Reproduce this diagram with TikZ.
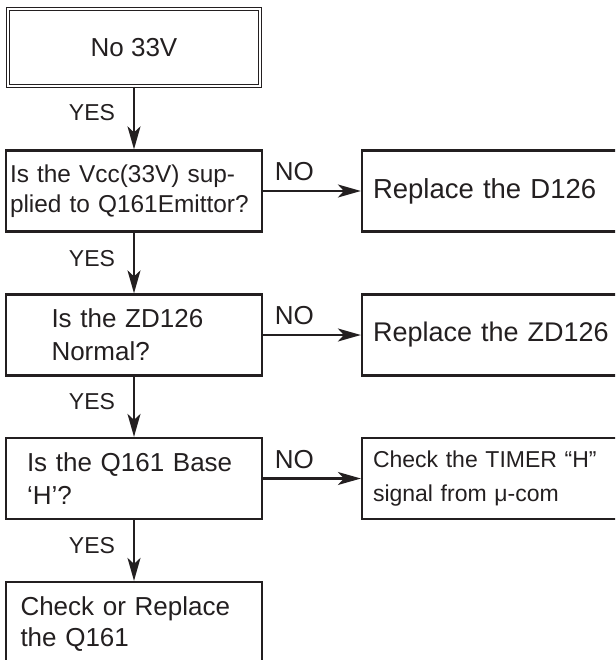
\documentclass[tikz,border=0pt]{standalone}
\usepackage{fontspec}
\setmainfont{Liberation Sans}
\usetikzlibrary{arrows.meta}
\definecolor{ink}{HTML}{231F20}
\newcommand{\fmain}{\fontsize{26pt}{31pt}\selectfont}
\newcommand{\fbig}{\fontsize{27.5pt}{31pt}\selectfont}
\newcommand{\fmid}{\fontsize{27pt}{31pt}\selectfont}
\newcommand{\fquest}{\fontsize{26pt}{33pt}\selectfont}
\newcommand{\fsmall}{\fontsize{24.4pt}{30pt}\selectfont}
\newcommand{\ftimer}{\fontsize{23pt}{34pt}\selectfont}
\newcommand{\fyes}{\fontsize{23pt}{27pt}\selectfont}
\begin{document}
\begin{tikzpicture}[x=1pt,y=-1pt,
  box/.style={draw=ink, line width=2.2pt, minimum width=256pt, minimum height=81pt,
    inner ysep=0pt, text=ink, align=left, font=\fmain},
  rbox/.style={box, minimum width=278pt, inner xsep=11pt, text width=256pt},
  arr/.style={draw=ink, line width=2.1pt, -{Stealth[length=23pt,width=13pt,inset=6pt]}},
  lbl/.style={text=ink, inner sep=0pt},
  nolbl/.style={lbl, font=\fmain, pos=0.32, yshift=19pt},
  yeslbl/.style={lbl, font=\fyes, pos=0.42, xshift=-42pt}
]
\useasboundingbox (0,0) rectangle (615,660);
\clip (0,0) rectangle (615,660);

% start box (double frame)
\node[draw=ink, double, double distance=1.6pt, line width=1.2pt,
      minimum width=252pt, minimum height=77pt, text=ink, font=\fmain] (start) at (134,47.5) {No 33V};

% decision boxes
\node[box, inner xsep=4pt, text width=248pt, font=\fsmall] (q1) at (134,191)
  {Is the Vcc(33V) sup-\\plied to Q161Emittor?};
\node[box, inner xsep=45.5pt, text width=165pt, font=\fquest] (q2) at (134,335)
  {Is the ZD126\\Normal?};
\node[box, inner xsep=21pt, text width=214pt, font=\fquest] (q3) at (134,478.5)
  {Is the Q161 Base\\‘H’?};
\node[box, minimum height=84pt, inner xsep=14.5pt, text width=227pt] (fix) at (134,624)
  {Check or Replace\\the Q161};

% right boxes (cut at the right edge)
\node[rbox, font=\fbig] (r1) at (501,191) {Replace the D126};
\node[rbox, font=\fmid] (r2) at (501,335) {Replace the ZD126};
\node[rbox, font=\ftimer] (r3) at (501,478.5) {Check the TIMER “H”\\signal from μ-com};

% connectors
\draw[arr] (start.south) -- node[yeslbl] {YES} (q1.north);
\draw[arr] (q1.south) -- node[yeslbl] {YES} (q2.north);
\draw[arr] (q2.south) -- node[yeslbl] {YES} (q3.north);
\draw[arr] (q3.south) -- node[yeslbl] {YES} (fix.north);

\draw[arr] (q1.east) -- node[nolbl] {NO} (r1.west);
\draw[arr] (q2.east) -- node[nolbl] {NO} (r2.west);
\draw[arr] (q3.east) -- node[nolbl] {NO} (r3.west);
\end{tikzpicture}
\end{document}
